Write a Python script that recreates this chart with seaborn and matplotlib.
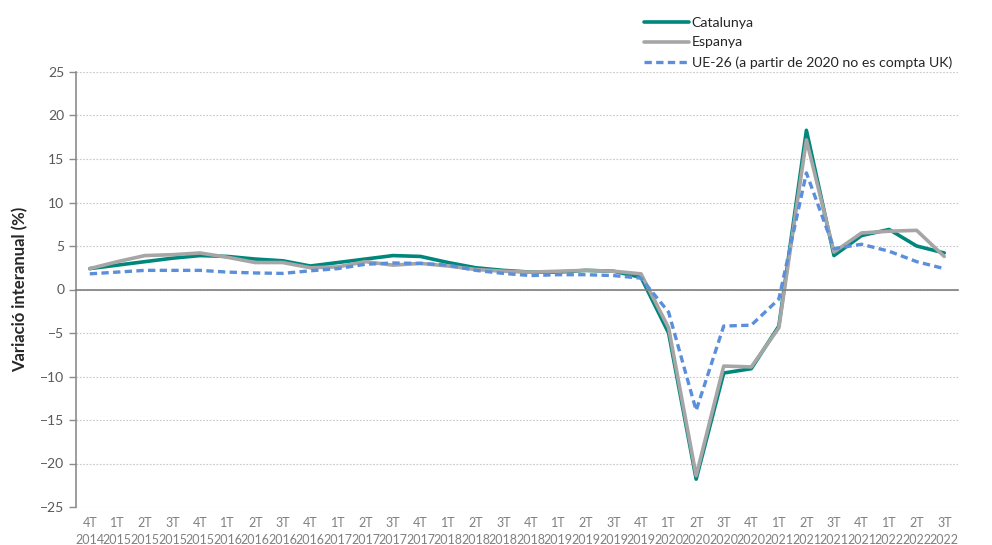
import numpy as np
import pandas as pd
import matplotlib
matplotlib.use("Agg")
import matplotlib.pyplot as plt
import seaborn as sns

# Quarter labels (4T 2014 .. 3T 2022)
trimestres = ["4T", "1T", "2T", "3T"] * 8
anys = ["2014"] + [str(y) for y in range(2015, 2023) for _ in range(4)]
trimestres = trimestres[:32]
anys = anys[:32]
etiquetes = [f"{t}\n{a}" for t, a in zip(trimestres, anys)]

catalunya = [2.4, 2.8, 3.2, 3.6, 3.9, 3.8, 3.5, 3.3, 2.7, 3.1, 3.5, 3.9,
             3.8, 3.1, 2.5, 2.2, 2.0, 2.0, 2.2, 2.1, 1.4, -5.0, -21.8, -9.6,
             -9.1, -4.2, 18.3, 3.9, 6.2, 6.9, 5.0, 4.2]
espanya = [2.4, 3.2, 3.9, 4.0, 4.2, 3.7, 3.1, 3.1, 2.5, 2.6, 3.2, 2.8,
           3.0, 2.7, 2.3, 2.1, 2.0, 2.1, 2.2, 2.1, 1.8, -4.4, -21.4, -8.8,
           -8.9, -4.4, 17.2, 4.3, 6.5, 6.7, 6.8, 3.8]
ue26 = [1.8, 2.0, 2.2, 2.2, 2.2, 2.0, 1.9, 1.85, 2.15, 2.4, 2.9, 3.05,
        3.0, 2.8, 2.2, 1.85, 1.6, 1.7, 1.7, 1.6, 1.3, -2.6, -13.9, -4.2,
        -4.1, -1.1, 13.4, 4.7, 5.2, 4.4, 3.2, 2.4]

pos = np.arange(len(etiquetes))
df = pd.DataFrame({"pos": pos, "Catalunya": catalunya, "Espanya": espanya,
                   "UE-26 (a partir de 2020 no es compta UK)": ue26})

sns.set_style("white")
plt.rcParams["font.family"] = ["Lato", "DejaVu Sans"]

fig = plt.figure(figsize=(9.92, 5.45), dpi=100)
ax = fig.add_axes([76 / 992, 38 / 545, 882 / 992, 435 / 545])

sns.lineplot(data=df, x="pos", y="Catalunya", color="#00877C", lw=2.6,
             ax=ax, label="Catalunya")
sns.lineplot(data=df, x="pos", y="Espanya", color="#A6A6A6", lw=2.6,
             ax=ax, label="Espanya")
sns.lineplot(data=df, x="pos", y="UE-26 (a partir de 2020 no es compta UK)",
             color="#5B8FDB", lw=2.4, ax=ax,
             label="UE-26 (a partir de 2020 no es compta UK)")
ax.lines[-1].set_dashes([2.2, 1.3])

ax.set_xlim(-0.5, len(etiquetes) - 0.5)
ax.set_ylim(-25, 25)
ax.set_yticks(range(-25, 26, 5))
ax.yaxis.grid(True, color="#C8C8C8", ls=(0, (1.5, 1.5)), lw=0.8)
ax.set_axisbelow(True)

for s in ["top", "right"]:
    ax.spines[s].set_visible(False)
ax.spines["left"].set_color("#8C8C8C")
ax.spines["left"].set_linewidth(1.2)
ax.spines["bottom"].set_position(("data", 0))
ax.spines["bottom"].set_color("#7F7F7F")
ax.spines["bottom"].set_linewidth(1.2)

# category boundary ticks on the zero line
ax.set_xticks(np.arange(-0.5, len(etiquetes), 1.0))
ax.tick_params(axis="x", direction="out", length=5, color="#7F7F7F",
               width=1, labelbottom=False)
ax.tick_params(axis="y", direction="out", length=5, color="#8C8C8C",
               width=1, left=True, labelsize=10, labelcolor="#595959")

# labels at the bottom
sec = ax.secondary_xaxis(0)
sec.set_xticks(pos)
sec.set_xticklabels(etiquetes, fontsize=9, color="#7F7F7F", linespacing=1.55)
sec.tick_params(length=0, pad=7)
sec.spines["bottom"].set_visible(False)

ax.set_xlabel("")
ax.set_ylabel("Variació interanual (%)", fontsize=12, fontweight="bold",
              color="#262626", labelpad=8)

ax.get_legend().remove()
h, l = ax.get_legend_handles_labels()
fig.legend(h, l, loc="upper left", bbox_to_anchor=(638 / 992, 1 - 11 / 545),
           frameon=False, fontsize=10.2, handlelength=3.2, handletextpad=0.2,
           labelspacing=0.55, borderaxespad=0)

fig.savefig("out.png", dpi=100)
